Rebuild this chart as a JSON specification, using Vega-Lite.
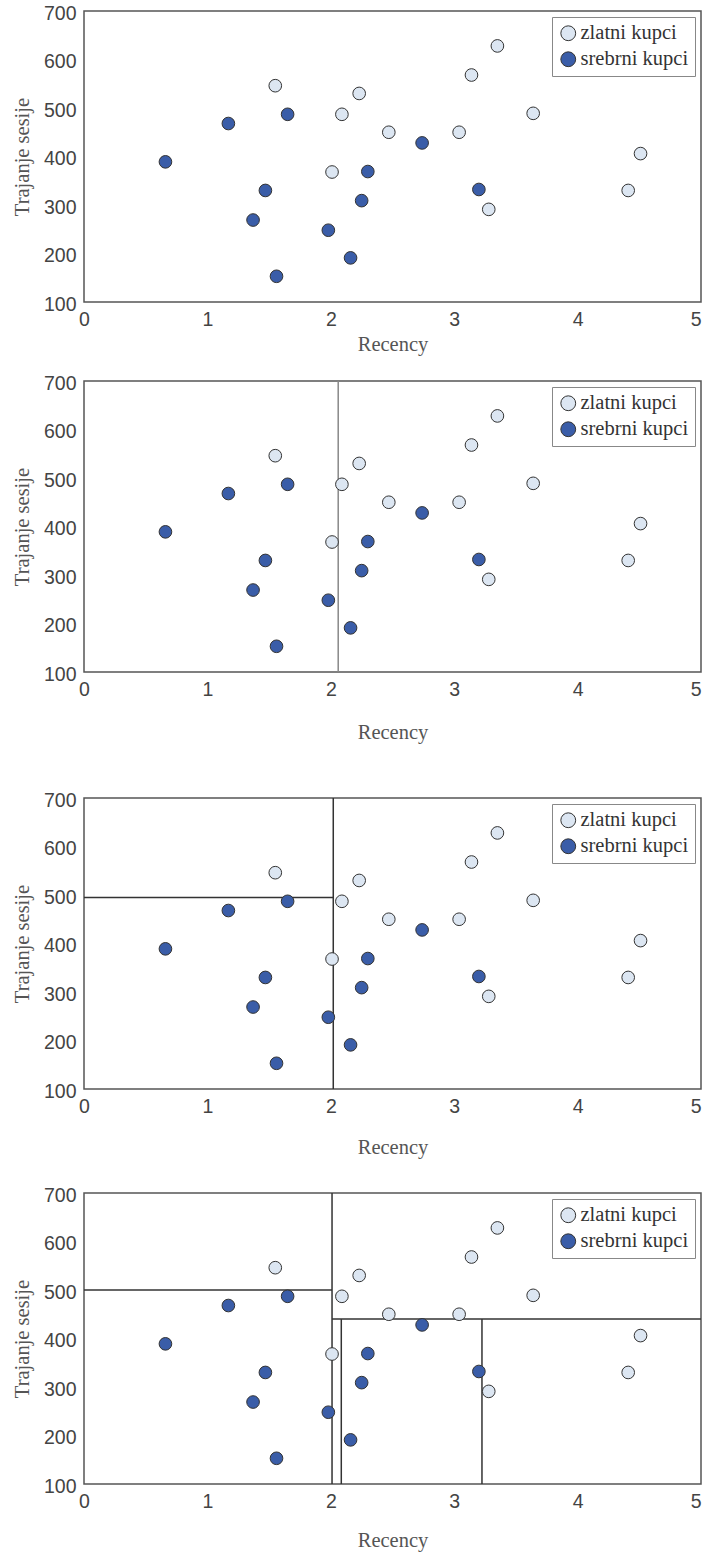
{
  "$schema": "https://vega.github.io/schema/vega-lite/v6.json",
  "padding": {"left": 11, "top": 2, "right": 2, "bottom": 0},
  "spacing": 16,
  "background": "white",
  "config": {
    "view": {"stroke": "#555", "strokeWidth": 1.5},
    "axis": {"grid": false, "domain": false, "ticks": false, "labelFont": "Liberation Sans", "labelFontSize": 19.5, "labelColor": "#444", "titleFont": "Liberation Serif", "titleFontSize": 20.5, "titleFontWeight": "normal", "titleColor": "#555", "format": "d"},
    "axisX": {"labelPadding": 8, "labelFlush": false, "labelAlign": {"expr": "datum.value == 5 ? 'right' : 'center'"}},
    "axisY": {"labelPadding": 8, "titlePadding": 11, "labelOffset": 2},
    "legend": {"orient": "top-right", "offset": 6, "strokeColor": "#888", "fillColor": "white", "padding": 6, "labelFont": "Liberation Serif", "labelFontSize": 20.5, "labelColor": "#333", "symbolSize": 220, "symbolStrokeWidth": 1, "symbolStrokeColor": "#333", "rowPadding": 5, "labelOffset": 2}
  },
  "resolve": {"scale": {"color": "independent"}, "legend": {"color": "independent"}},
  "datasets": {
    "pts": [
      {"recency": 1.55, "trajanje": 546, "grupa": "zlatni kupci"},
      {"recency": 2.23, "trajanje": 530, "grupa": "zlatni kupci"},
      {"recency": 2.09, "trajanje": 487, "grupa": "zlatni kupci"},
      {"recency": 2.47, "trajanje": 450, "grupa": "zlatni kupci"},
      {"recency": 3.04, "trajanje": 450, "grupa": "zlatni kupci"},
      {"recency": 3.14, "trajanje": 568, "grupa": "zlatni kupci"},
      {"recency": 3.35, "trajanje": 628, "grupa": "zlatni kupci"},
      {"recency": 3.64, "trajanje": 489, "grupa": "zlatni kupci"},
      {"recency": 2.01, "trajanje": 368, "grupa": "zlatni kupci"},
      {"recency": 3.28, "trajanje": 291, "grupa": "zlatni kupci"},
      {"recency": 4.41, "trajanje": 330, "grupa": "zlatni kupci"},
      {"recency": 4.51, "trajanje": 406, "grupa": "zlatni kupci"},
      {"recency": 0.66, "trajanje": 389, "grupa": "srebrni kupci"},
      {"recency": 1.17, "trajanje": 468, "grupa": "srebrni kupci"},
      {"recency": 1.65, "trajanje": 487, "grupa": "srebrni kupci"},
      {"recency": 1.47, "trajanje": 330, "grupa": "srebrni kupci"},
      {"recency": 1.37, "trajanje": 269, "grupa": "srebrni kupci"},
      {"recency": 1.56, "trajanje": 153, "grupa": "srebrni kupci"},
      {"recency": 1.98, "trajanje": 248, "grupa": "srebrni kupci"},
      {"recency": 2.16, "trajanje": 191, "grupa": "srebrni kupci"},
      {"recency": 2.25, "trajanje": 309, "grupa": "srebrni kupci"},
      {"recency": 2.30, "trajanje": 369, "grupa": "srebrni kupci"},
      {"recency": 2.74, "trajanje": 428, "grupa": "srebrni kupci"},
      {"recency": 3.20, "trajanje": 332, "grupa": "srebrni kupci"}
    ],
    "split2": [
      {"x1": 2.06, "x2": 2.06, "y1": 100, "y2": 700}
    ],
    "split3": [
      {"x1": 2.02, "x2": 2.02, "y1": 100, "y2": 700},
      {"x1": 0, "x2": 2.02, "y1": 495, "y2": 495}
    ],
    "split4": [
      {"x1": 2.01, "x2": 2.01, "y1": 100, "y2": 700},
      {"x1": 0, "x2": 2.01, "y1": 500, "y2": 500},
      {"x1": 2.01, "x2": 5, "y1": 440, "y2": 440},
      {"x1": 2.085, "x2": 2.085, "y1": 100, "y2": 440},
      {"x1": 3.225, "x2": 3.225, "y1": 100, "y2": 440}
    ]
  },
  "vconcat": [
    {
      "width": 617, "height": 291,
      "layer": [
        {
          "data": {"name": "pts"},
          "mark": {"type": "circle", "size": 160, "stroke": "#333", "strokeWidth": 1, "opacity": 1},
          "encoding": {
            "x": {"field": "recency", "type": "quantitative", "title": "Recency", "scale": {"domain": [0, 5], "nice": false}, "axis": {"values": [0, 1, 2, 3, 4, 5], "titlePadding": 6}},
            "y": {"field": "trajanje", "type": "quantitative", "title": "Trajanje sesije", "scale": {"domain": [100, 700], "nice": false, "zero": false}, "axis": {"values": [100, 200, 300, 400, 500, 600, 700]}},
            "color": {"field": "grupa", "type": "nominal", "scale": {"domain": ["zlatni kupci", "srebrni kupci"], "range": ["#dce6f2", "#3a5da8"]}, "legend": {"title": null}}
          }
        }
      ]
    },
    {
      "width": 617, "height": 291,
      "layer": [
        {
          "data": {"name": "split2"},
          "mark": {"type": "rule", "color": "#888", "strokeWidth": 1.5},
          "encoding": {
            "x": {"field": "x1", "type": "quantitative", "title": "Recency"},
            "x2": {"field": "x2"},
            "y": {"field": "y1", "type": "quantitative", "title": "Trajanje sesije"},
            "y2": {"field": "y2"}
          }
        },
        {
          "data": {"name": "pts"},
          "mark": {"type": "circle", "size": 160, "stroke": "#333", "strokeWidth": 1, "opacity": 1},
          "encoding": {
            "x": {"field": "recency", "type": "quantitative", "title": "Recency", "scale": {"domain": [0, 5], "nice": false}, "axis": {"values": [0, 1, 2, 3, 4, 5], "titlePadding": 24}},
            "y": {"field": "trajanje", "type": "quantitative", "title": "Trajanje sesije", "scale": {"domain": [100, 700], "nice": false, "zero": false}, "axis": {"values": [100, 200, 300, 400, 500, 600, 700]}},
            "color": {"field": "grupa", "type": "nominal", "scale": {"domain": ["zlatni kupci", "srebrni kupci"], "range": ["#dce6f2", "#3a5da8"]}, "legend": {"title": null}}
          }
        }
      ]
    },
    {
      "width": 617, "height": 291,
      "title": {"text": " ", "fontSize": 9, "offset": 20},
      "layer": [
        {
          "data": {"name": "split3"},
          "mark": {"type": "rule", "color": "#333", "strokeWidth": 1.5},
          "encoding": {
            "x": {"field": "x1", "type": "quantitative", "title": "Recency"},
            "x2": {"field": "x2"},
            "y": {"field": "y1", "type": "quantitative", "title": "Trajanje sesije"},
            "y2": {"field": "y2"}
          }
        },
        {
          "data": {"name": "pts"},
          "mark": {"type": "circle", "size": 160, "stroke": "#333", "strokeWidth": 1, "opacity": 1},
          "encoding": {
            "x": {"field": "recency", "type": "quantitative", "title": "Recency", "scale": {"domain": [0, 5], "nice": false}, "axis": {"values": [0, 1, 2, 3, 4, 5], "titlePadding": 22}},
            "y": {"field": "trajanje", "type": "quantitative", "title": "Trajanje sesije", "scale": {"domain": [100, 700], "nice": false, "zero": false}, "axis": {"values": [100, 200, 300, 400, 500, 600, 700]}},
            "color": {"field": "grupa", "type": "nominal", "scale": {"domain": ["zlatni kupci", "srebrni kupci"], "range": ["#dce6f2", "#3a5da8"]}, "legend": {"title": null}}
          }
        }
      ]
    },
    {
      "width": 617, "height": 291,
      "title": {"text": " ", "fontSize": 4, "offset": 5},
      "layer": [
        {
          "data": {"name": "split4"},
          "mark": {"type": "rule", "color": "#333", "strokeWidth": 1.5},
          "encoding": {
            "x": {"field": "x1", "type": "quantitative", "title": "Recency"},
            "x2": {"field": "x2"},
            "y": {"field": "y1", "type": "quantitative", "title": "Trajanje sesije"},
            "y2": {"field": "y2"}
          }
        },
        {
          "data": {"name": "pts"},
          "mark": {"type": "circle", "size": 160, "stroke": "#333", "strokeWidth": 1, "opacity": 1},
          "encoding": {
            "x": {"field": "recency", "type": "quantitative", "title": "Recency", "scale": {"domain": [0, 5], "nice": false}, "axis": {"values": [0, 1, 2, 3, 4, 5], "titlePadding": 20}},
            "y": {"field": "trajanje", "type": "quantitative", "title": "Trajanje sesije", "scale": {"domain": [100, 700], "nice": false, "zero": false}, "axis": {"values": [100, 200, 300, 400, 500, 600, 700]}},
            "color": {"field": "grupa", "type": "nominal", "scale": {"domain": ["zlatni kupci", "srebrni kupci"], "range": ["#dce6f2", "#3a5da8"]}, "legend": {"title": null}}
          }
        }
      ]
    }
  ]
}
